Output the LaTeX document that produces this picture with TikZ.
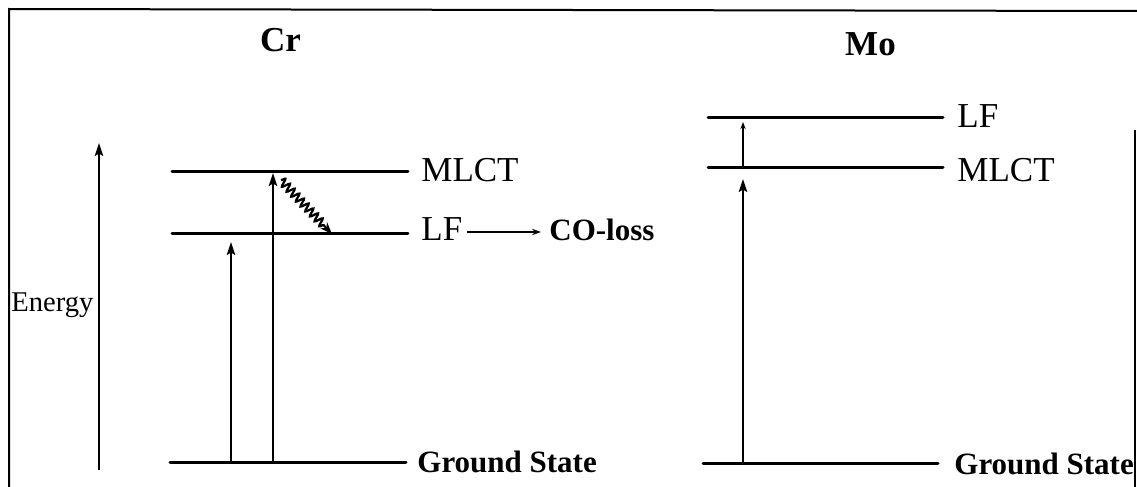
\documentclass[tikz,border=0pt]{standalone}
\usepackage{fontspec}
\setmainfont{Liberation Serif}
\usetikzlibrary{arrows.meta,decorations.pathmorphing}
\begin{document}
\begin{tikzpicture}[x=0.5pt,y=-0.5pt,
  level/.style={line width=1.5pt,line cap=round},
  frameline/.style={line width=1pt},
  exc/.style={line width=0.75pt,-{Stealth[length=6.5pt,width=4.2pt,inset=1.2pt]}},
  smallexc/.style={line width=0.75pt,-{Stealth[length=3.5pt,width=2.6pt]}},
  wavy/.style={line width=1.1pt,-{Stealth[length=6pt,width=4.5pt]},
    decorate,decoration={snake,segment length=3.4pt,amplitude=2pt,post length=5pt}},
  lab/.style={inner sep=0pt,anchor=base west,font=\fontsize{17.5pt}{20pt}\selectfont},
  blab/.style={inner sep=0pt,anchor=base west,font=\fontsize{15.5pt}{18pt}\selectfont\bfseries},
  title/.style={inner sep=0pt,anchor=base,font=\fontsize{17.5pt}{20pt}\selectfont\bfseries},
  elab/.style={inner sep=0pt,anchor=base west,font=\fontsize{14.3pt}{16pt}\selectfont}]
\useasboundingbox (0,0) rectangle (1137,487);
% frame
\coordinate (fBL) at (9,487);
\coordinate (fTL) at (9,9);
\coordinate (fTR) at (1137,11);
\coordinate (fRt) at (1135,130);
\coordinate (fRb) at (1135,487);
\draw[frameline] (fBL) -- (fTL) -- (fTR);
\draw[frameline] (fRt) -- (fRb);
% titles
\node[title] (cr) at (280.5,52) {Cr};
\node[title] (mo) at (870.5,55) {Mo};
% energy axis
\coordinate (eS) at (99,470);
\coordinate (eE) at (99,143);
\draw[exc] (eS) -- (eE);
\node[elab] (energy) at (11,311) {Energy};
% Cr levels
\coordinate (crM1) at (172,171); \coordinate (crM2) at (408,171);
\coordinate (crL1) at (172,233); \coordinate (crL2) at (408,233);
\coordinate (crG1) at (170,462); \coordinate (crG2) at (406,462);
\draw[level] (crM1) -- (crM2);
\draw[level] (crL1) -- (crL2);
\draw[level] (crG1) -- (crG2);
\node[lab] (crMl) at (421,181) {MLCT};
\node[lab] (crLl) at (421,240) {LF};
\node[blab] (co) at (549,240) {CO-loss};
\node[blab] (crGl) at (417,472) {Ground State};
\coordinate (coS) at (467,232);
\coordinate (coE) at (541,232);
\draw[line width=0.75pt,-{Stealth[length=4.5pt,width=3.2pt]}] (coS) -- (coE);
% Cr transitions
\coordinate (a1s) at (231,462); \coordinate (a1e) at (231,242);
\coordinate (a2s) at (273,462); \coordinate (a2e) at (273,173);
\draw[exc] (a1s) -- (a1e);
\draw[exc] (a2s) -- (a2e);
\coordinate (wS) at (281,180); \coordinate (wE) at (332,234);
\draw[wavy] (wS) -- (wE);
% Mo levels
\coordinate (moL1) at (708,117); \coordinate (moL2) at (943,117);
\coordinate (moM1) at (708,167); \coordinate (moM2) at (943,167);
\coordinate (moG1) at (703,463); \coordinate (moG2) at (938,463);
\draw[level] (moL1) -- (moL2);
\draw[level] (moM1) -- (moM2);
\draw[level] (moG1) -- (moG2);
\node[lab] (moLl) at (957,127) {LF};
\node[lab] (moMl) at (957,181) {MLCT};
\node[blab] (moGl) at (954,474) {Ground State};
% Mo transitions
\coordinate (m1s) at (743,463); \coordinate (m1e) at (743,179);
\coordinate (m2s) at (743,167); \coordinate (m2e) at (743,122);
\draw[exc] (m1s) -- (m1e);
\draw[smallexc] (m2s) -- (m2e);
\end{tikzpicture}
\end{document}
